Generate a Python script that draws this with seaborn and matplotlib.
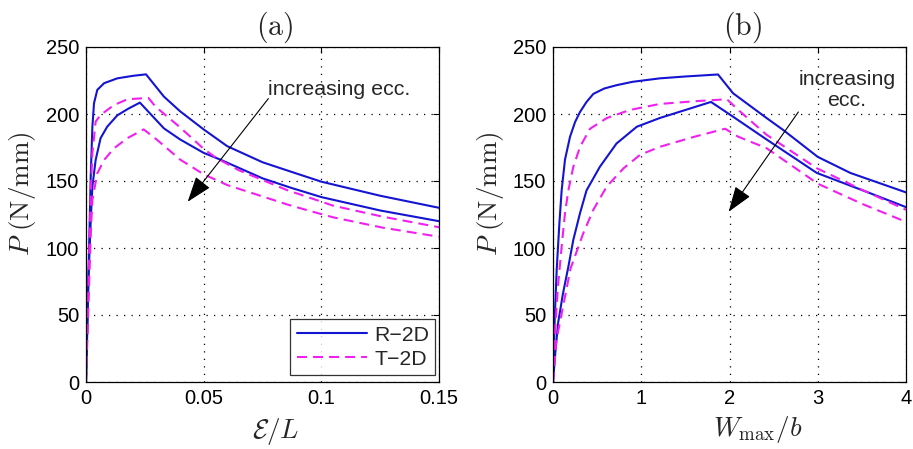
import numpy as np
import pandas as pd
import matplotlib
matplotlib.use("Agg")
import matplotlib.pyplot as plt
import seaborn as sns

# ---------------- data: panel (a), P vs E/L ----------------
a_R1_x = [0, 0.001, 0.002, 0.0027, 0.0034, 0.0048, 0.0077, 0.0133, 0.02, 0.0255,
          0.0331, 0.04, 0.05, 0.06, 0.075, 0.087, 0.1, 0.125, 0.15]
a_R1_y = [0, 75, 153, 190, 208, 218, 223, 226.6, 228.5, 229.6,
          213, 202, 188.5, 176, 164, 157, 149.5, 139, 130]
a_R2_x = [0, 0.001, 0.002, 0.0027, 0.0041, 0.0062, 0.009, 0.0133, 0.018, 0.0229,
          0.0331, 0.04, 0.05, 0.057, 0.075, 0.087, 0.1, 0.125, 0.15]
a_R2_y = [0, 75, 120, 145.7, 165.7, 182, 190.5, 199, 204, 208.5,
          189.3, 181, 171, 166, 152, 145, 138, 128, 120]
a_T1_x = [0, 0.001, 0.002, 0.0027, 0.0041, 0.0062, 0.0119, 0.0176, 0.0265,
          0.0296, 0.04, 0.05, 0.0555, 0.065, 0.0853, 0.105, 0.126, 0.15]
a_T1_y = [0, 70, 140, 170.7, 194.3, 199.3, 206.7, 211, 212,
          205.4, 190, 174, 167, 158, 143.3, 131.6, 123.4, 115.5]
a_T2_x = [0, 0.001, 0.002, 0.0027, 0.0048, 0.0077, 0.0119, 0.0176, 0.0245,
          0.03, 0.04, 0.05, 0.06, 0.0853, 0.0952, 0.105, 0.126, 0.15]
a_T2_y = [0, 55, 110, 135.8, 155.7, 165.7, 174.4, 182, 188.5,
          181, 166, 155, 147, 132.6, 127.6, 122.9, 115.2, 108.4]

# ---------------- data: panel (b), P vs Wmax/b ----------------
b_R1_x = [0, 0.02, 0.042, 0.072, 0.098, 0.136, 0.193, 0.25, 0.306, 0.38, 0.457,
          0.58, 0.72, 0.9, 1.21, 1.5, 1.87,
          2.04, 2.42, 2.61, 3.0, 3.37, 4.0]
b_R1_y = [0, 48, 84, 118, 143, 166, 183, 194, 201.5, 209, 215,
          219, 221.5, 224, 226.6, 228, 229.5,
          215.5, 197, 188, 168, 156, 141.5]
b_R2_x = [0, 0.03, 0.06, 0.113, 0.174, 0.23, 0.306, 0.38, 0.53, 0.72, 0.95,
          1.21, 1.5, 1.79,
          2.04, 2.42, 2.99, 3.55, 4.0]
b_R2_y = [0, 25, 45, 66, 86, 106, 126, 143, 160.5, 178, 190.5,
          197, 203, 209,
          198, 181, 156, 142, 130.5]
b_T1_x = [0, 0.02, 0.057, 0.098, 0.136, 0.174, 0.23, 0.306, 0.42, 0.61, 0.87,
          1.21, 1.6, 1.97,
          2.1, 2.42, 2.99, 3.5, 4.0]
b_T1_y = [0, 35, 72, 101, 126, 143, 160.5, 175.5, 189, 197, 203,
          207.5, 209.5, 211,
          203, 184.5, 159.5, 143.5, 128.5]
b_T2_x = [0, 0.038, 0.113, 0.2, 0.25, 0.343, 0.457, 0.61, 0.8, 0.986, 1.21,
          1.6, 1.95,
          2.1, 2.42, 3.0, 3.5, 4.0]
b_T2_y = [0, 31, 56, 85, 94, 111, 128.5, 146, 159.5, 169.5, 175.5,
          183, 189,
          183, 174.5, 148, 133, 119.5]

y_ticks = [0, 50, 100, 150, 200, 250]
a_xticks = [0, 0.05, 0.1, 0.15]
a_xticklabels = ["0", "0.05", "0.1", "0.15"]
b_xticks = [0, 1, 2, 3, 4]
b_xticklabels = ["0", "1", "2", "3", "4"]
legend_labels = ["R\u22122D", "T\u22122D"]

# ---------------- style ----------------
sns.set_style("white")
plt.rcParams["font.family"] = ["Liberation Sans", "DejaVu Sans"]
plt.rcParams["mathtext.fontset"] = "cm"
plt.rcParams["xtick.direction"] = "in"
plt.rcParams["ytick.direction"] = "in"

BLUE = "#1414d2"
MAG = "#f020f0"
DASH = (4.8, 2.9)
LW = 1.5

fig = plt.figure(figsize=(9.13, 4.49), dpi=100)
ax_a = fig.add_axes([86 / 913, 67 / 449, 353 / 913, 335 / 449])
ax_b = fig.add_axes([553 / 913, 67 / 449, 353 / 913, 335 / 449])


def draw(ax, series):
    handles = []
    for x, y, kind in series:
        df = pd.DataFrame({"x": x, "y": y})
        if kind == "R":
            sns.lineplot(data=df, x="x", y="y", ax=ax, color=BLUE, lw=LW,
                         sort=False, estimator=None)
        else:
            sns.lineplot(data=df, x="x", y="y", ax=ax, color=MAG, lw=LW,
                         sort=False, estimator=None)
            ax.lines[-1].set_dashes(DASH)
        ax.lines[-1].set_solid_joinstyle("round")
        handles.append(ax.lines[-1])
    return handles


def style(ax, xticks, xlabels, xlim, xlabel, title, xl_pos, yl_pos, t_pos):
    ax.set_xlim(*xlim)
    ax.set_ylim(0, 250)
    ax.set_xticks(xticks)
    ax.set_xticklabels(xlabels)
    ax.set_yticks(y_ticks)
    ax.tick_params(labelsize=14.5, length=4, width=0.8, top=True, right=True,
                   colors="black", pad=5)
    ax.grid(True, color="black", linestyle=(0, (1, 5)), linewidth=0.9)
    for s in ax.spines.values():
        s.set_color("black")
        s.set_linewidth(0.9)
    ax.set_ylabel(r"$P\ \mathrm{(N/mm)}$", fontsize=19.5)
    ax.yaxis.label.set_va("center")
    ax.yaxis.set_label_coords(*yl_pos)
    ax.set_xlabel(xlabel, fontsize=19.5)
    ax.xaxis.label.set_va("center")
    ax.xaxis.set_label_coords(*xl_pos)
    ax.text(t_pos[0], t_pos[1], title, transform=ax.transAxes, fontsize=21.5,
            ha="center", va="center")


h_a = draw(ax_a, [(a_R1_x, a_R1_y, "R"), (a_R2_x, a_R2_y, "R"),
                  (a_T1_x, a_T1_y, "T"), (a_T2_x, a_T2_y, "T")])
style(ax_a, a_xticks, a_xticklabels, (0, 0.15), r"$\mathcal{E}/L$", r"$(\mathrm{a})$",
      (0.538, -0.149), (-0.181, 0.563), (0.533, 1.058))

h_b = draw(ax_b, [(b_R1_x, b_R1_y, "R"), (b_R2_x, b_R2_y, "R"),
                  (b_T1_x, b_T1_y, "T"), (b_T2_x, b_T2_y, "T")])
style(ax_b, b_xticks, b_xticklabels, (0, 4), r"$W_{\mathrm{max}}/b$", r"$(\mathrm{b})$",
      (0.581, -0.143), (-0.176, 0.563), (0.537, 1.058))

leg = ax_a.legend([h_a[0], h_a[2]], legend_labels, loc="lower right",
                  bbox_to_anchor=(0.99, 0.02), fontsize=15.3, frameon=True,
                  fancybox=False, edgecolor="black", handlelength=3.3,
                  borderpad=0.3, labelspacing=0.25, handletextpad=0.35,
                  borderaxespad=0.0)
leg.get_frame().set_linewidth(0.9)

# annotations
ARROW = dict(arrowstyle="-|>,head_length=0.8,head_width=0.28",
             color="black", lw=0.8, mutation_scale=20, shrinkA=0, shrinkB=0)
ax_a.annotate("", xy=(0.0432, 134.5), xytext=(0.0775, 211.5), arrowprops=ARROW)
ax_a.text(0.0775, 218, "increasing ecc.", fontsize=15.4, ha="left", va="center")

ax_b.annotate("", xy=(1.99, 127), xytext=(2.78, 201.5), arrowprops=ARROW)
ax_b.text(3.33, 218, "increasing\necc.", fontsize=15.4, ha="center", va="center",
          linespacing=1.1)

fig.savefig("out.png", dpi=100)
